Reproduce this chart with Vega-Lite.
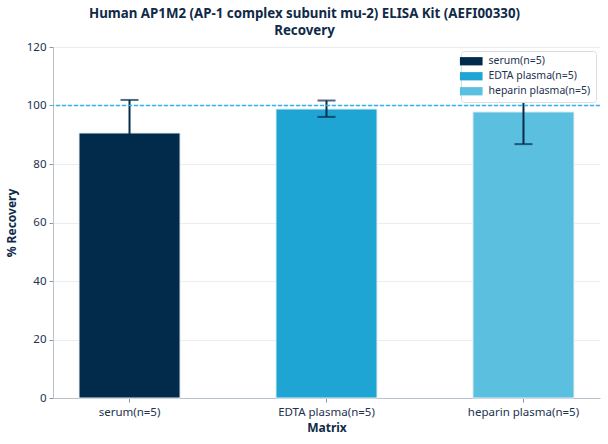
{
  "$schema": "https://vega.github.io/schema/vega-lite/v6.json",
  "autosize": "none",
  "width": 547,
  "height": 351,
  "padding": {"left": 53, "top": 47, "right": 8, "bottom": 46},
  "background": "white",
  "config": {
    "font": "Noto Sans",
    "view": {"stroke": null},
    "axis": {
      "labelFont": "Noto Sans",
      "titleFont": "Noto Sans",
      "labelColor": "#1d3250",
      "titleColor": "#0f2a47",
      "labelFontSize": 11.5,
      "titleFontSize": 12,
      "titleFontWeight": "bold",
      "domainColor": "#b8c2cc",
      "tickColor": "#8a96a3",
      "tickSize": 4,
      "gridColor": "#e8edf1"
    }
  },
  "title": {
    "text": ["Human AP1M2 (AP-1 complex subunit mu-2) ELISA Kit (AEFI00330)", "Recovery"],
    "font": "Noto Sans",
    "fontSize": 13.3,
    "fontWeight": "bold",
    "color": "#0f2a47",
    "anchor": "middle",
    "dx": -22,
    "offset": 4,
    "lineHeight": 17
  },
  "datasets": {
    "bars": [
      {"matrix": "serum(n=5)", "recovery": 90.6, "low": 79.3, "high": 101.9},
      {"matrix": "EDTA plasma(n=5)", "recovery": 98.8, "low": 96.1, "high": 101.7},
      {"matrix": "heparin plasma(n=5)", "recovery": 97.8, "low": 86.8, "high": 108.8}
    ],
    "reference": [{"target": 100}]
  },
  "data": {"name": "bars"},
  "layer": [
    {
      "mark": {"type": "bar", "stroke": "#e6eef3", "strokeWidth": 1},
      "encoding": {
        "x": {
          "field": "matrix",
          "type": "nominal",
          "sort": null,
          "title": "Matrix",
          "scale": {"paddingInner": 0.487, "paddingOuter": 0.132},
          "axis": {"labelAngle": 0, "titlePadding": 5, "labelPadding": 4}
        },
        "y": {
          "field": "recovery",
          "type": "quantitative",
          "title": "% Recovery",
          "scale": {"domain": [0, 120]},
          "axis": {"values": [0, 20, 40, 60, 80, 100, 120], "grid": true, "titlePadding": 8, "labelPadding": 3}
        },
        "color": {
          "field": "matrix",
          "type": "nominal",
          "sort": null,
          "scale": {
            "domain": ["serum(n=5)", "EDTA plasma(n=5)", "heparin plasma(n=5)"],
            "range": ["#022b4b", "#1fa5d4", "#5bbfe0"]
          },
          "legend": {
            "title": null,
            "orient": "top-right",
            "offset": 4,
            "padding": 5,
            "fillColor": "white",
            "strokeColor": "#d6dde3",
            "cornerRadius": 3,
            "labelFont": "Noto Sans",
            "labelFontSize": 10.5,
            "labelColor": "#1d3250",
            "symbolType": "M-2.6,-0.95H2.6V0.95H-2.6Z",
            "symbolSize": 76,
            "symbolStrokeWidth": 0,
            "rowPadding": 4,
            "labelOffset": 12
          }
        }
      }
    },
    {
      "mark": {"type": "rule", "color": "#052c4b", "strokeWidth": 2},
      "encoding": {
        "x": {"field": "matrix", "type": "nominal", "sort": null},
        "y": {"field": "low", "type": "quantitative"},
        "y2": {"field": "high"}
      }
    },
    {
      "mark": {"type": "tick", "color": "#052c4b", "thickness": 2, "size": 18},
      "encoding": {
        "x": {"field": "matrix", "type": "nominal", "sort": null},
        "y": {"field": "low", "type": "quantitative"}
      }
    },
    {
      "mark": {"type": "tick", "color": "#052c4b", "thickness": 2, "size": 18},
      "encoding": {
        "x": {"field": "matrix", "type": "nominal", "sort": null},
        "y": {"field": "high", "type": "quantitative"}
      }
    },
    {
      "data": {"name": "reference"},
      "mark": {"type": "rule", "strokeDash": [4, 2], "strokeWidth": 1.3},
      "encoding": {
        "y": {"field": "target", "type": "quantitative"},
        "color": {"value": "#2fb4ea"}
      }
    }
  ]
}
